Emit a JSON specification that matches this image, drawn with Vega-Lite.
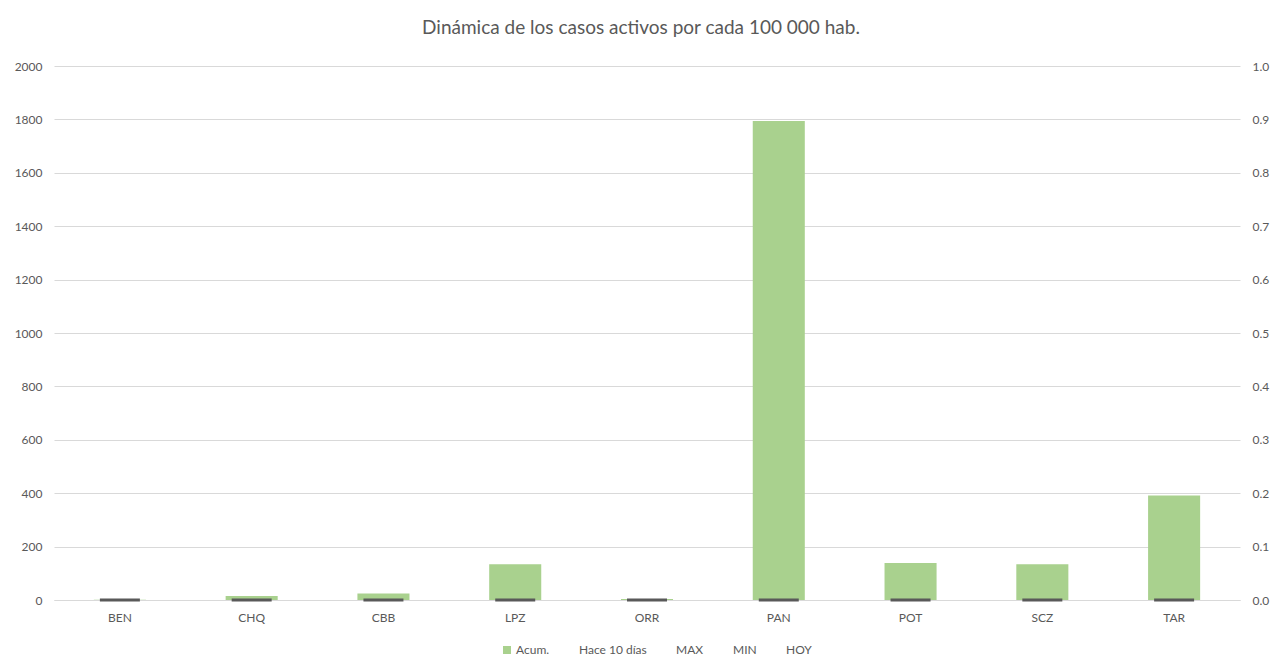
{
  "$schema": "https://vega.github.io/schema/vega-lite/v6.json",
  "width": 1186,
  "height": 534,
  "autosize": {"type": "none"},
  "padding": {"left": 54, "top": 66, "right": 37, "bottom": 63},
  "background": "white",
  "title": {
    "text": "Dinámica de los casos activos por cada 100 000 hab.",
    "anchor": "middle",
    "dx": -6,
    "offset": 22,
    "font": "Lato",
    "fontSize": 19,
    "fontWeight": "normal",
    "color": "#595959"
  },
  "data": {
    "values": [
      {"region": "BEN", "serie": "Acum.", "acum": 1, "hoy": 0},
      {"region": "CHQ", "serie": "Acum.", "acum": 15, "hoy": 0},
      {"region": "CBB", "serie": "Acum.", "acum": 24, "hoy": 0},
      {"region": "LPZ", "serie": "Acum.", "acum": 134, "hoy": 0},
      {"region": "ORR", "serie": "Acum.", "acum": 4, "hoy": 0},
      {"region": "PAN", "serie": "Acum.", "acum": 1794, "hoy": 0},
      {"region": "POT", "serie": "Acum.", "acum": 139, "hoy": 0},
      {"region": "SCZ", "serie": "Acum.", "acum": 134, "hoy": 0},
      {"region": "TAR", "serie": "Acum.", "acum": 391, "hoy": 0}
    ]
  },
  "encoding": {
    "x": {
      "field": "region",
      "type": "nominal",
      "sort": null,
      "scale": {"paddingInner": 0.605, "paddingOuter": 0.3025},
      "axis": {
        "title": null,
        "labelAngle": 0,
        "ticks": false,
        "labelPadding": 12,
        "domainColor": "#d9d9d9",
        "domainWidth": 1,
        "labelFont": "Lato",
        "labelFontSize": 12,
        "labelColor": "#595959"
      }
    }
  },
  "layer": [
    {
      "mark": {"type": "bar"},
      "encoding": {
        "y": {
          "field": "acum",
          "type": "quantitative",
          "scale": {"domain": [0, 2000], "nice": false},
          "axis": {
            "title": null,
            "values": [0, 200, 400, 600, 800, 1000, 1200, 1400, 1600, 1800, 2000],
            "format": "d",
            "domain": false,
            "ticks": false,
            "labelPadding": 12,
            "gridColor": "#d9d9d9",
            "gridWidth": 1,
            "labelFont": "Lato",
            "labelFontSize": 12,
            "labelColor": "#595959"
          }
        },
        "color": {
          "field": "serie",
          "type": "nominal",
          "scale": {
            "domain": ["Acum.", "Hace 10 días", "MAX", "MIN", "HOY"],
            "range": ["#a9d18e", "rgba(0,0,0,0)", "rgba(0,0,0,0)", "rgba(0,0,0,0)", "rgba(0,0,0,0)"]
          },
          "legend": {
            "title": null,
            "orient": "none",
            "direction": "horizontal",
            "legendX": 447,
            "legendY": 578,
            "symbolType": "square",
            "symbolSize": 64,
            "symbolStrokeWidth": 0,
            "labelOffset": 3,
            "columnPadding": 14,
            "labelFont": "Lato",
            "labelFontSize": 12,
            "labelColor": "#595959"
          }
        }
      }
    },
    {
      "mark": {"type": "tick", "size": 40, "thickness": 3, "color": "#595959", "opacity": 1},
      "encoding": {
        "y": {
          "field": "hoy",
          "type": "quantitative",
          "scale": {"domain": [0, 1], "nice": false},
          "axis": {
            "orient": "right",
            "title": null,
            "values": [0, 0.1, 0.2, 0.3, 0.4, 0.5, 0.6, 0.7, 0.8, 0.9, 1.0],
            "format": ".1f",
            "grid": false,
            "domain": false,
            "ticks": false,
            "labelPadding": 12,
            "labelFont": "Lato",
            "labelFontSize": 12,
            "labelColor": "#595959"
          }
        }
      }
    }
  ],
  "resolve": {"scale": {"y": "independent", "color": "independent"}},
  "config": {"view": {"stroke": null}}
}
